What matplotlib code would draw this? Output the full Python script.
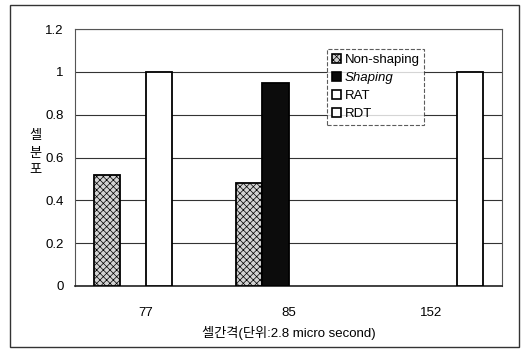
import matplotlib
matplotlib.use("Agg")
import matplotlib.pyplot as plt
import numpy as np
from matplotlib.patches import Rectangle, Patch

plt.rcParams['font.family'] = ['Liberation Sans', 'Noto Sans CJK KR', 'DejaVu Sans']
plt.rcParams['hatch.color'] = '#b4b4b4'
plt.rcParams['hatch.linewidth'] = 0.5

categories = ['77', '85', '152']
series_names = ['Non-shaping', 'Shaping', 'RAT', 'RDT']
non_shaping = [0.52, 0.48, 0.0]
shaping = [0.0, 0.95, 0.0]
rat = [1.0, 0.0, 0.0]
rdt = [0.0, 0.0, 1.0]
y_ticks = [0, 0.2, 0.4, 0.6, 0.8, 1, 1.2]
y_tick_labels = ['0', '0.2', '0.4', '0.6', '0.8', '1', '1.2']

fig = plt.figure(figsize=(5.27, 3.56), dpi=100)
ax = fig.add_axes([75/527, 1-286/356, (502-75)/527, (286-29)/356])

x = np.arange(len(categories))
w = 0.183
styles = [
    dict(facecolor='#d2d2d2', edgecolor='black', hatch='xxxxx'),
    dict(facecolor='#0c0c0c', edgecolor='black'),
    dict(facecolor='white', edgecolor='black'),
    dict(facecolor='white', edgecolor='black'),
]
data = [non_shaping, shaping, rat, rdt]
handles = []
for i, (vals, st) in enumerate(zip(data, styles)):
    offs = (i - 1.5) * w
    bars = ax.bar(x + offs, vals, width=w, linewidth=1.3, zorder=3, **st)
    for p in bars.patches:
        if p.get_height() == 0:
            p.set_visible(False)
    handles.append(Patch(linewidth=1.2, label=series_names[i], **st))

ax.set_xlim(-0.5, 2.5)
ax.set_ylim(0, 1.2)
ax.set_yticks(y_ticks)
ax.set_yticklabels(y_tick_labels, fontsize=9.5)
ax.set_xticks(x)
ax.set_xticklabels(categories, fontsize=9.5)
ax.tick_params(axis='x', length=0, pad=15)
ax.tick_params(axis='y', length=0, pad=8)
ax.yaxis.grid(True, color='#333333', linewidth=0.8, zorder=0)
ax.set_axisbelow(True)
for s in ['top', 'right', 'left']:
    ax.spines[s].set_color('#555555')
    ax.spines[s].set_linewidth(0.8)
ax.spines['bottom'].set_color('#222222')
ax.spines['bottom'].set_linewidth(1.2)

ax.set_xlabel('셀간격(단위:2.8 micro second)', fontsize=9.5, labelpad=5)
fig.text(35/527, 1-153/356, '셀\n분\n포', fontsize=9.5, ha='center', va='center', linespacing=1.4,
         family=['Noto Sans CJK KR', 'DejaVu Sans'])

leg = ax.legend(handles=handles, loc='upper left', bbox_to_anchor=((327-75)/427, 1-(49-29)/257),
                fontsize=9.5, frameon=True, fancybox=False, handlelength=0.7, handleheight=0.7,
                handletextpad=0.3, labelspacing=0.45, borderpad=0.35, borderaxespad=0)
leg.get_frame().set_edgecolor('#333333')
leg.get_frame().set_linestyle('--')
leg.get_frame().set_linewidth(0.8)
leg.texts[1].set_style('italic')

fig.patches.append(Rectangle((10/527, 1-347/356), (519-10)/527, (347-5)/356, transform=fig.transFigure,
                             fill=False, edgecolor='#333333', linewidth=1.0))

fig.savefig('out.png', dpi=100)
